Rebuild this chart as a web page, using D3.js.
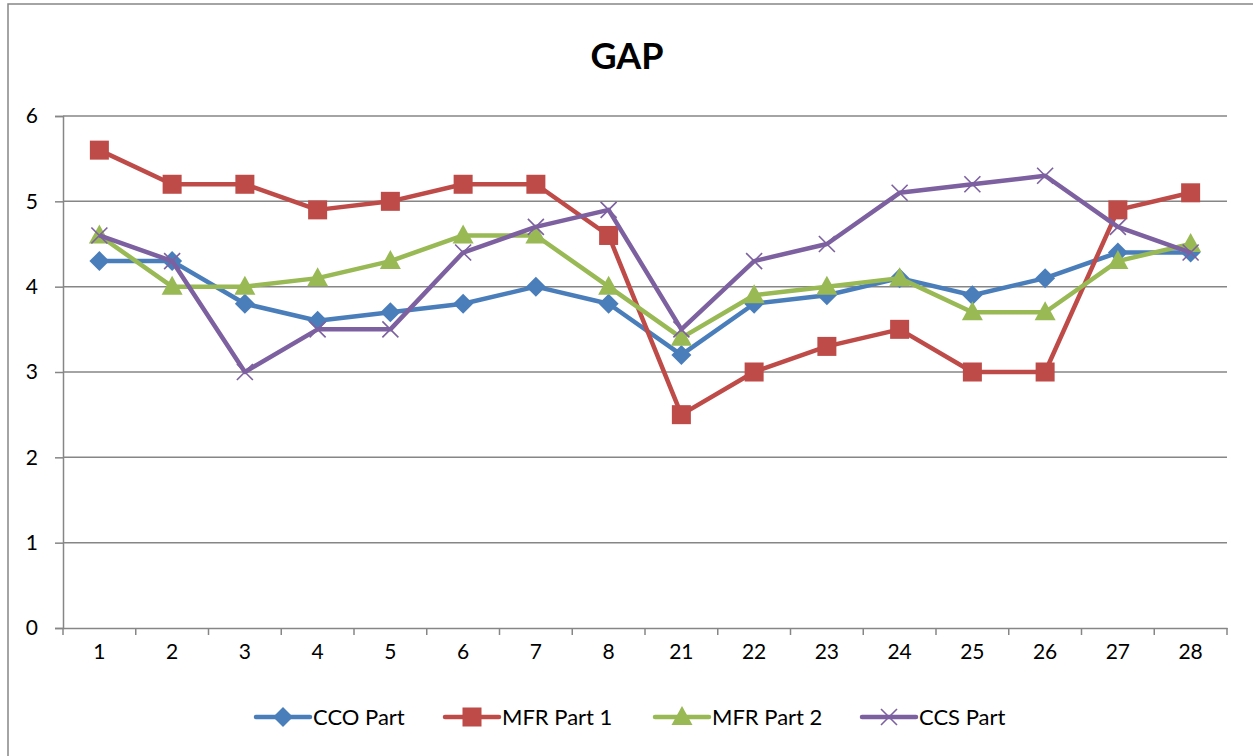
<!DOCTYPE html>
<html><head><meta charset="utf-8">
<script src="https://cdn.jsdelivr.net/npm/d3@7"></script>
<style>body{margin:0;background:#fff}svg{display:block}text{font-family:Lato,"Open Sans",sans-serif}</style>
</head><body><svg id="c" width="1253" height="756"></svg>
<script>
const categories = ["1","2","3","4","5","6","7","8","21","22","23","24","25","26","27","28"];
const ccoPart  = [4.3,4.3,3.8,3.6,3.7,3.8,4.0,3.8,3.2,3.8,3.9,4.1,3.9,4.1,4.4,4.4];
const mfrPart1 = [5.6,5.2,5.2,4.9,5.0,5.2,5.2,4.6,2.5,3.0,3.3,3.5,3.0,3.0,4.9,5.1];
const mfrPart2 = [4.6,4.0,4.0,4.1,4.3,4.6,4.6,4.0,3.4,3.9,4.0,4.1,3.7,3.7,4.3,4.5];
const ccsPart  = [4.6,4.3,3.0,3.5,3.5,4.4,4.7,4.9,3.5,4.3,4.5,5.1,5.2,5.3,4.7,4.4];
const yTicks = [0,1,2,3,4,5,6];
const seriesNames = ["CCO Part","MFR Part 1","MFR Part 2","CCS Part"];

const series = [
  {name:seriesNames[0], values:ccoPart,  color:"#4A7EBB", marker:"diamond"},
  {name:seriesNames[1], values:mfrPart1, color:"#BE4B48", marker:"square"},
  {name:seriesNames[2], values:mfrPart2, color:"#98B954", marker:"triangle"},
  {name:seriesNames[3], values:ccsPart,  color:"#7D60A0", marker:"x"}
];

const svg = d3.select("#c");
const L=63, R=1227, T=116, B=628;
const grid="#868686";

svg.append("rect").attr("x",8).attr("y",4).attr("width",1260).attr("height",770)
  .attr("fill","#fff").attr("stroke",grid).attr("stroke-width",1.5);

svg.append("text").attr("x",627).attr("y",69).attr("text-anchor","middle")
  .attr("font-size",36).attr("font-weight","bold").text("GAP");

const x = d3.scaleBand().domain(categories).range([L,R]).padding(0);
const y = d3.scaleLinear().domain([0,6]).range([B,T]);

svg.append("g").selectAll("line").data(yTicks.filter(d=>d>0)).join("line")
  .attr("x1",L).attr("x2",R).attr("y1",d=>y(d)).attr("y2",d=>y(d))
  .attr("stroke",grid).attr("stroke-width",1.5);

const ya = svg.append("g").attr("transform",`translate(${L},0)`)
  .call(d3.axisLeft(y).tickValues(yTicks).tickFormat(d3.format("d")).tickSize(8).tickPadding(17));
ya.select(".domain").attr("stroke",grid).attr("stroke-width",1.5);
ya.selectAll(".tick line").attr("stroke",grid).attr("stroke-width",1.5);
ya.selectAll("text").attr("font-size",21).attr("fill","#000").attr("font-family","Lato");

const xa = svg.append("g").attr("transform",`translate(0,${B})`)
  .call(d3.axisBottom(x).tickSize(0).tickPadding(16));
xa.select(".domain").attr("stroke",grid).attr("stroke-width",1.5);
xa.selectAll("text").attr("font-size",21).attr("fill","#000").attr("font-family","Lato").attr("dy","0.71em");
const bounds = categories.map(c=>x(c)).concat([R]);
xa.selectAll(".sep").data(bounds).join("line").attr("class","sep")
  .attr("x1",d=>d).attr("x2",d=>d).attr("y1",0).attr("y2",7)
  .attr("stroke",grid).attr("stroke-width",1.5);

function drawMarker(g, type, color, cx, cy){
  if(type==="diamond"){
    g.append("path").attr("d",`M${cx},${cy-10}L${cx+10},${cy}L${cx},${cy+10}L${cx-10},${cy}Z`).attr("fill",color);
  } else if(type==="square"){
    g.append("rect").attr("x",cx-9.5).attr("y",cy-9.5).attr("width",19).attr("height",19).attr("fill",color);
  } else if(type==="triangle"){
    g.append("path").attr("d",`M${cx},${cy-11}L${cx+10.5},${cy+8}L${cx-10.5},${cy+8}Z`).attr("fill",color);
  } else {
    g.append("path").attr("d",`M${cx-8},${cy-8}L${cx+8},${cy+8}M${cx-8},${cy+8}L${cx+8},${cy-8}`)
      .attr("stroke",color).attr("stroke-width",1.6).attr("fill","none");
  }
}

const line = d3.line().x((d,i)=>x(categories[i])+x.bandwidth()/2).y(d=>y(d));
series.forEach(s=>{
  const g = svg.append("g");
  g.append("path").datum(s.values).attr("d",line).attr("fill","none")
    .attr("stroke",s.color).attr("stroke-width",4.5).attr("stroke-linejoin","round");
  s.values.forEach((v,i)=>drawMarker(g,s.marker,s.color,x(categories[i])+x.bandwidth()/2,y(v)));
});

const legX = [256,445,655,862];
const ly = 717;
series.forEach((s,i)=>{
  const g = svg.append("g");
  const x0 = legX[i];
  g.append("line").attr("x1",x0).attr("x2",x0+54).attr("y1",ly).attr("y2",ly)
    .attr("stroke",s.color).attr("stroke-width",4.5).attr("stroke-linecap","round");
  drawMarker(g,s.marker,s.color,x0+27,ly);
  g.append("text").attr("x",x0+57).attr("y",ly).attr("dy","0.35em")
    .attr("font-size",22).attr("fill","#000").text(s.name);
});
</script></body></html>
